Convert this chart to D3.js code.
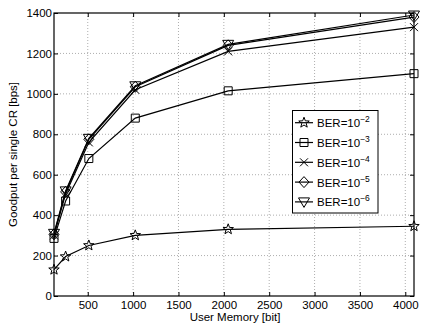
<!DOCTYPE html>
<html>
<head>
<meta charset="utf-8">
<script src="https://cdn.jsdelivr.net/npm/d3@7"></script>
<style>
  body { margin: 0; background: #fff; }
  svg text { font-family: "Liberation Sans", Arial, sans-serif; fill: #000; }
</style>
</head>
<body>
<div id="chart"></div>
<script>
var w = 421, h = 326;
var mLeft = 54, mRight = 414, mTop = 13, mBottom = 296;

var memory = [128, 256, 512, 1024, 2048, 4096];
var ber2 = [130, 195, 250, 300, 330, 345];
var ber3 = [285, 470, 680, 880, 1015, 1100];
var ber4 = [300, 505, 760, 1020, 1210, 1330];
var ber5 = [305, 515, 775, 1035, 1240, 1380];
var ber6 = [310, 520, 780, 1040, 1245, 1390];
var seriesNames = ["\u22122", "\u22123", "\u22124", "\u22125", "\u22126"];
var xTicks = [500, 1000, 1500, 2000, 2500, 3000, 3500, 4000];
var yTicks = [0, 200, 400, 600, 800, 1000, 1200, 1400];

var series = [ber2, ber3, ber4, ber5, ber6];
var markers = ["star", "square", "x", "diamond", "tri"];

var xScale = d3.scaleLinear().domain([128, 4096]).range([mLeft, mRight]);
var yScale = d3.scaleLinear().domain([0, 1400]).range([mBottom, mTop]);

var svg = d3.select("#chart").append("svg")
  .attr("width", w).attr("height", h);

// marker shapes, drawn around 0,0
function markerPath(type) {
  var p = d3.path();
  if (type == "star") {
    var ro = 5.5, ri = 2.3;
    for (var i = 0; i < 10; i++) {
      var r = i % 2 ? ri : ro;
      var a = -Math.PI / 2 + i * Math.PI / 5;
      if (i == 0) p.moveTo(r * Math.cos(a), r * Math.sin(a));
      else p.lineTo(r * Math.cos(a), r * Math.sin(a));
    }
    p.closePath();
  } else if (type == "square") {
    p.rect(-4, -4, 8, 8);
  } else if (type == "x") {
    p.moveTo(-4, -4); p.lineTo(4, 4);
    p.moveTo(-4, 4); p.lineTo(4, -4);
  } else if (type == "diamond") {
    p.moveTo(0, -5.5); p.lineTo(5, 0); p.lineTo(0, 5.5); p.lineTo(-5, 0); p.closePath();
  } else {
    p.moveTo(-5.5, -4); p.lineTo(5.5, -4); p.lineTo(0, 5.5); p.closePath();
  }
  return p.toString();
}

// gridlines
svg.append("g").selectAll("line").data(xTicks).enter().append("line")
  .attr("x1", function(d) { return xScale(d); }).attr("x2", function(d) { return xScale(d); })
  .attr("y1", mTop).attr("y2", mBottom)
  .attr("stroke", "#999").attr("stroke-width", 0.8).attr("stroke-dasharray", "1,2");
svg.append("g").selectAll("line").data(yTicks.slice(1, -1)).enter().append("line")
  .attr("y1", function(d) { return yScale(d); }).attr("y2", function(d) { return yScale(d); })
  .attr("x1", mLeft).attr("x2", mRight)
  .attr("stroke", "#999").attr("stroke-width", 0.8).attr("stroke-dasharray", "1,2");

// axes, ticks inside
var fmt = d3.format("d");
svg.append("g").attr("transform", "translate(0," + mBottom + ")")
  .call(d3.axisBottom(xScale).tickValues(xTicks).tickFormat(fmt).tickSizeInner(-4).tickSizeOuter(0).tickPadding(5));
svg.append("g").attr("transform", "translate(0," + mTop + ")")
  .call(d3.axisTop(xScale).tickValues(xTicks).tickSizeInner(-4).tickSizeOuter(0).tickFormat(""));
svg.append("g").attr("transform", "translate(" + mLeft + ",0)")
  .call(d3.axisLeft(yScale).tickValues(yTicks).tickFormat(fmt).tickSizeInner(-4).tickSizeOuter(0).tickPadding(2));
svg.append("g").attr("transform", "translate(" + mRight + ",0)")
  .call(d3.axisRight(yScale).tickValues(yTicks).tickSizeInner(-4).tickSizeOuter(0).tickFormat(""));

svg.selectAll(".domain").remove();
svg.selectAll(".tick line").attr("stroke", "#000");
svg.selectAll(".tick text").attr("font-size", 11.5).attr("font-family", "Liberation Sans, Arial, sans-serif");

svg.append("rect").attr("x", mLeft).attr("y", mTop)
  .attr("width", mRight - mLeft).attr("height", mBottom - mTop)
  .attr("fill", "none").attr("stroke", "#000").attr("stroke-width", 1.2);

// lines and markers
var line = d3.line()
  .x(function(d, i) { return xScale(memory[i]); })
  .y(function(d) { return yScale(d); });

series.forEach(function(s, k) {
  svg.append("path").datum(s)
    .attr("d", line)
    .attr("fill", "none").attr("stroke", "#000").attr("stroke-width", 1.2);
  svg.append("g").selectAll("path").data(s).enter().append("path")
    .attr("transform", function(d, i) { return "translate(" + xScale(memory[i]) + "," + yScale(d) + ")"; })
    .attr("d", markerPath(markers[k]))
    .attr("fill", "none").attr("stroke", "#000").attr("stroke-width", 1);
});

// legend
var lg = svg.append("g");
lg.append("rect").attr("x", 292.5).attr("y", 110.5).attr("width", 85.5).attr("height", 102.5)
  .attr("fill", "#fff").attr("stroke", "#000").attr("stroke-width", 1);
seriesNames.forEach(function(name, k) {
  var yy = 122.7 + k * 19.8;
  lg.append("line").attr("x1", 295).attr("x2", 313).attr("y1", yy).attr("y2", yy)
    .attr("stroke", "#000").attr("stroke-width", 1.2);
  lg.append("path").attr("transform", "translate(304," + yy + ")")
    .attr("d", markerPath(markers[k]))
    .attr("fill", "none").attr("stroke", "#000").attr("stroke-width", 1);
  var t = lg.append("text").attr("x", 317).attr("y", yy + 4.5).attr("font-size", 11.5);
  t.append("tspan").text("BER=10");
  t.append("tspan").attr("dy", -5).attr("font-size", 8.5).text(name);
});

// axis labels
svg.append("text").attr("x", (mLeft + mRight) / 2 + 1).attr("y", 321)
  .attr("text-anchor", "middle").attr("font-size", 11.5).text("User Memory [bit]");
svg.append("text").attr("transform", "translate(17," + ((mTop + mBottom) / 2) + ") rotate(-90)")
  .attr("text-anchor", "middle").attr("font-size", 11.5).text("Goodput per single CR [bps]");
</script>
</body>
</html>
